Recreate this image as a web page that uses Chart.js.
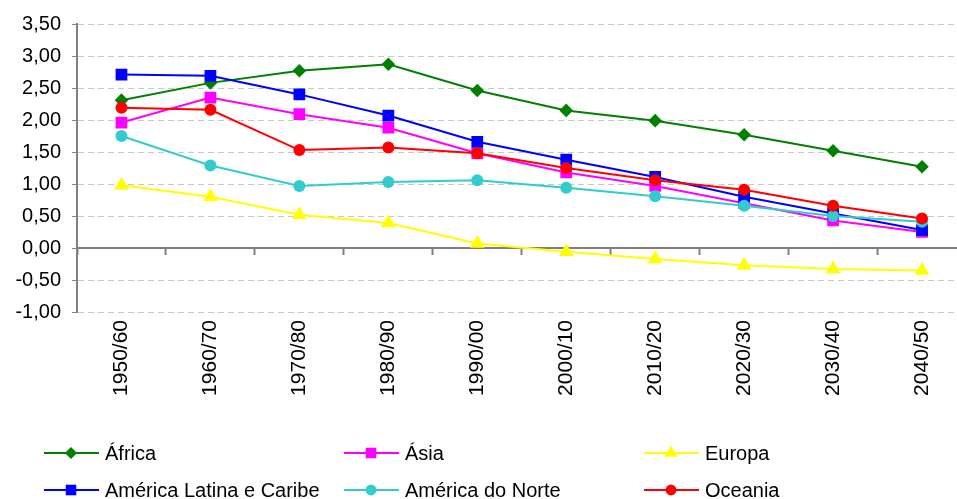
<!DOCTYPE html>
<html>
<head>
<meta charset="utf-8">
<script src="https://cdn.jsdelivr.net/npm/chart.js@4/dist/chart.umd.min.js"></script>
<style>
  html, body { margin: 0; padding: 0; background: #fff; overflow: hidden; }
  #wrap { width: 975px; height: 499px; }
</style>
</head>
<body>
<div id="wrap"><canvas id="graf" width="975" height="499"></canvas></div>
<script>
// Dados (taxa de crescimento, %)
const periodos = ['1950/60', '1960/70', '1970/80', '1980/90', '1990/00', '2000/10', '2010/20', '2020/30', '2030/40', '2040/50'];
const regioes = ['África', 'Ásia', 'Europa', 'América Latina e Caribe', 'América do Norte', 'Oceania'];

const africa   = [2.31, 2.58, 2.77, 2.87, 2.46, 2.15, 1.99, 1.77, 1.52, 1.27];
const asia     = [1.96, 2.35, 2.09, 1.88, 1.48, 1.18, 0.97, 0.70, 0.43, 0.25];
const europa   = [0.98, 0.80, 0.52, 0.39, 0.07, -0.06, -0.17, -0.27, -0.33, -0.35];
const amLatina = [2.71, 2.69, 2.40, 2.07, 1.66, 1.38, 1.11, 0.80, 0.54, 0.28];
const amNorte  = [1.75, 1.29, 0.97, 1.03, 1.06, 0.94, 0.81, 0.66, 0.50, 0.41];
const oceania  = [2.19, 2.16, 1.53, 1.57, 1.48, 1.25, 1.06, 0.91, 0.66, 0.46];

const yMin = -1, yMax = 3.5, yPasso = 0.5;

const series = [africa, asia, europa, amLatina, amNorte, oceania];
const cores = ['#008000', '#ff00ff', '#ffff00', '#0000ff', '#33cccc', '#ff0000'];
const simbolos = ['rectRot', 'rect', 'triangle', 'rect', 'circle', 'circle'];
const raios = [6.8, 8.3, 8.5, 8.3, 6, 6];

const fonte = 'Liberation Sans, Arial, sans-serif';

// Legenda em grade (3 colunas)
const legendaGrade = {
  id: 'legendaGrade',
  afterDraw(chart) {
    const ctx = chart.ctx;
    const base = chart.chartArea.bottom;
    chart.data.datasets.forEach((ds, i) => {
      const col = i % 3, lin = Math.floor(i / 3);
      const x = 44 + col * 300;
      const y = base + 141 + lin * 37;
      ctx.save();
      ctx.strokeStyle = ds.borderColor;
      ctx.fillStyle = ds.backgroundColor;
      ctx.lineWidth = 2;
      ctx.beginPath();
      ctx.moveTo(x, y);
      ctx.lineTo(x + 55, y);
      ctx.stroke();
      Chart.helpers.drawPoint(ctx, { pointStyle: ds.pointStyle, radius: ds.pointRadius * 0.9, borderWidth: 0, rotation: 0 }, x + 27, y);
      ctx.fillStyle = '#000';
      ctx.font = '20px ' + fonte;
      ctx.textBaseline = 'middle';
      ctx.fillText(ds.label, x + 61, y + 1);
      ctx.restore();
    });
  }
};

const chart = new Chart(document.getElementById('graf'), {
  type: 'line',
  data: {
    labels: periodos,
    datasets: regioes.map((nome, i) => ({
      label: nome,
      data: series[i],
      borderColor: cores[i],
      backgroundColor: cores[i],
      pointBackgroundColor: cores[i],
      pointBorderColor: cores[i],
      pointBorderWidth: 0,
      pointStyle: simbolos[i],
      pointRadius: raios[i],
      borderWidth: 2,
      tension: 0,
      order: regioes.length - i,
      xAxisID: 'x'
    }))
  },
  options: {
    responsive: false,
    animation: false,
    layout: { padding: { top: 24, right: 8, bottom: 87, left: 0 } },
    plugins: { legend: { display: false }, tooltip: { enabled: false } },
    scales: {
      y: {
        min: yMin,
        max: yMax,
        afterFit: s => { s.width = 77; },
        ticks: {
          stepSize: yPasso,
          color: '#000',
          padding: 11,
          font: { family: fonte, size: 20 },
          callback: v => v.toFixed(2).replace('.', ',')
        },
        grid: { color: '#c8c8c8', lineWidth: 1, tickColor: '#808080', tickLength: 5, tickBorderDash: [] },
        border: { display: true, color: '#808080', width: 2, dash: [6, 4] }
      },
      x: {
        type: 'category',
        position: { y: 0 },
        offset: true,
        ticks: { display: false },
        grid: { display: true, drawOnChartArea: false, drawTicks: true, offset: true, tickLength: 6, tickColor: '#808080', tickWidth: 2 },
        border: { display: true, color: '#808080', width: 2 }
      },
      x2: {
        type: 'category',
        position: 'bottom',
        offset: true,
        afterFit: s => { s.height = 100; },
        grid: { display: false },
        border: { display: false },
        ticks: {
          minRotation: 90,
          maxRotation: 90,
          autoSkip: false,
          padding: 0,
          color: '#000',
          font: { family: fonte, size: 21 }
        }
      }
    }
  },
  plugins: [legendaGrade]
});
</script>
</body>
</html>
